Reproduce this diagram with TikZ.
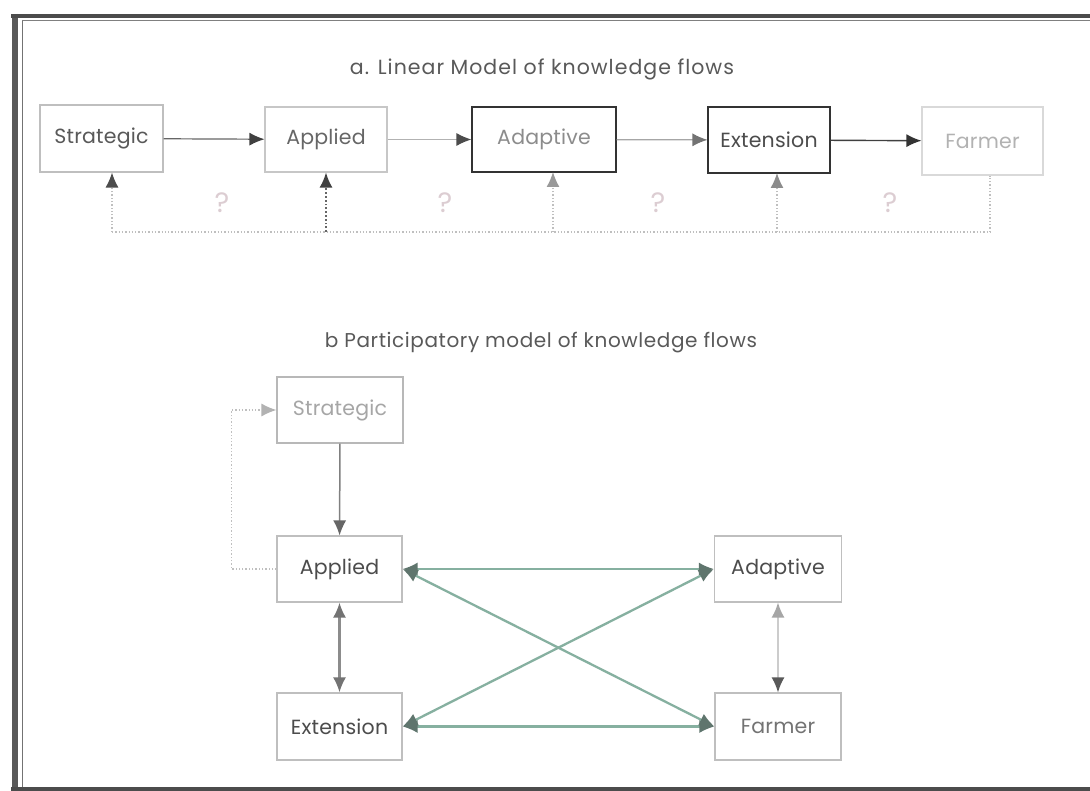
\documentclass[tikz,border=0pt]{standalone}
\usepackage{fontspec}
\setmainfont{Poppins}
\usetikzlibrary{arrows.meta}
\definecolor{grn}{HTML}{86B0A0}
\definecolor{grnd}{HTML}{5F756D}
\definecolor{qm}{HTML}{DCCDD2}
\begin{document}
\begin{tikzpicture}[x=1pt,y=-1pt,
  box/.style={draw=#1, line width=1.1pt, inner sep=0pt, font=\fontsize{20.5}{22}\selectfont\addfontfeature{LetterSpace=1}},
  ttl/.style={font=\fontsize{20}{22}\selectfont\addfontfeature{LetterSpace=3}, text=black!65},
  tip/.style={-{Latex[length=15pt,width=13pt,color=#1]}},
  dtip/.style={{Latex[length=15pt,width=13pt,color=#1]}-{Latex[length=15pt,width=13pt,color=#1]}},
  fb/.style={dotted, line width=1.3pt, draw=black!25},
  qmark/.style={font=\fontsize{28}{30}\selectfont, text=qm}]
\useasboundingbox (0,0) rectangle (1090,791);
\fill[white] (0,0) rectangle (1090,791);
% frame
\draw[line width=6pt, black!65] (15,14) -- (15,791);
\draw[line width=1pt, black!55] (22,20) -- (22,788);
\draw[line width=3.5pt, black!70] (11,16) -- (1090,16);
\draw[line width=1pt, black!50] (22,21) -- (1090,21);
\draw[line width=3.5pt, black!70] (11,789) -- (1090,789);

% ---- a. linear model
\node[ttl, font=\fontsize{20.5}{22}\selectfont\addfontfeature{LetterSpace=5}] (ta) at (542,69) {a. Linear Model of knowledge flows};
\node[box=black!25, text=black!65, minimum width=123pt, minimum height=67pt] (sA) at (101.5,138.5) {Strategic};
\node[box=black!22, text=black!60, minimum width=122pt, minimum height=65pt] (aA) at (326,139.5) {Applied};
\node[box=black!80, text=black!45, minimum width=144pt, minimum height=65pt] (dA) at (544,139.5) {Adaptive};
\node[box=black!80, text=black!70, minimum width=122pt, minimum height=66pt] (eA) at (769,140) {Extension};
\node[box=black!15, text=black!30, minimum width=121pt, minimum height=68pt] (fA) at (982.5,141) {Farmer};

\draw[line width=1.2pt, black!60, tip=black!75] (sA) -- (aA);
\draw[line width=1.2pt, black!30, tip=black!70] (aA) -- (dA);
\draw[line width=1.2pt, black!35, tip=black!55] (dA) -- (eA);
\draw[line width=1.4pt, black!75, tip=black!80] (eA) -- (fA);

% feedback
\coordinate (b0) at (112,232);
\coordinate (b4) at (990,232);
\draw[fb] (b0) -- (b4);
\draw[fb] (b4) -- (fA.south -| b4);
\draw[fb, tip=black!70] (b0) -- (sA.south -| b0);
\draw[dotted, line width=1.8pt, black!60, tip=black!75] (aA.south |- b0) -- (aA.south);
\draw[fb, tip=black!40] (553,232) -- (553,172);
\draw[fb, tip=black!45] (777,232) -- (777,173);
\node[qmark] (q1) at (222,203) {?};
\node[qmark] (q2) at (445,203) {?};
\node[qmark] (q3) at (658,203) {?};
\node[qmark] (q4) at (890,203) {?};

% ---- b. participatory model
\node[ttl] (tb) at (541,343) {b Participatory model of knowledge flows};
\node[box=black!28, text=black!35, minimum width=126pt, minimum height=66pt] (sB) at (340,410) {Strategic};
\node[box=black!25, text=black!70, minimum width=125pt, minimum height=66pt] (aB) at (339.5,569) {Applied};
\node[box=black!25, text=black!70, minimum width=125pt, minimum height=67pt] (eB) at (339.5,726.5) {Extension};
\node[box=black!25, text=black!70, minimum width=127pt, minimum height=66pt] (dB) at (778,569) {Adaptive};
\node[box=black!25, text=black!55, minimum width=126pt, minimum height=67pt] (fB) at (778,726.5) {Farmer};

\draw[line width=1.5pt, black!50, tip=black!60] (sB) -- (aB);
\draw[fb, tip=black!30] (aB.west) -- ++(-45,0) |- (sB.west);
\draw[line width=2.3pt, grn, dtip=grnd] (aB.east) -- (dB.west);
\draw[line width=2.3pt, grn, dtip=grnd] (eB.east) -- (fB.west);
\draw[line width=2.3pt, grn, dtip=grnd] (aB.east) -- (fB.west);
\draw[line width=2.3pt, grn, dtip=grnd] (eB.east) -- (dB.west);
\draw[line width=2.2pt, black!45, dtip=black!55] (aB) -- (eB);
\draw[line width=1.8pt, black!20, {Latex[length=15pt,width=13pt,color=black!35]}-{Latex[length=15pt,width=13pt,color=black!65]}] (dB) -- (fB);
\end{tikzpicture}
\end{document}
